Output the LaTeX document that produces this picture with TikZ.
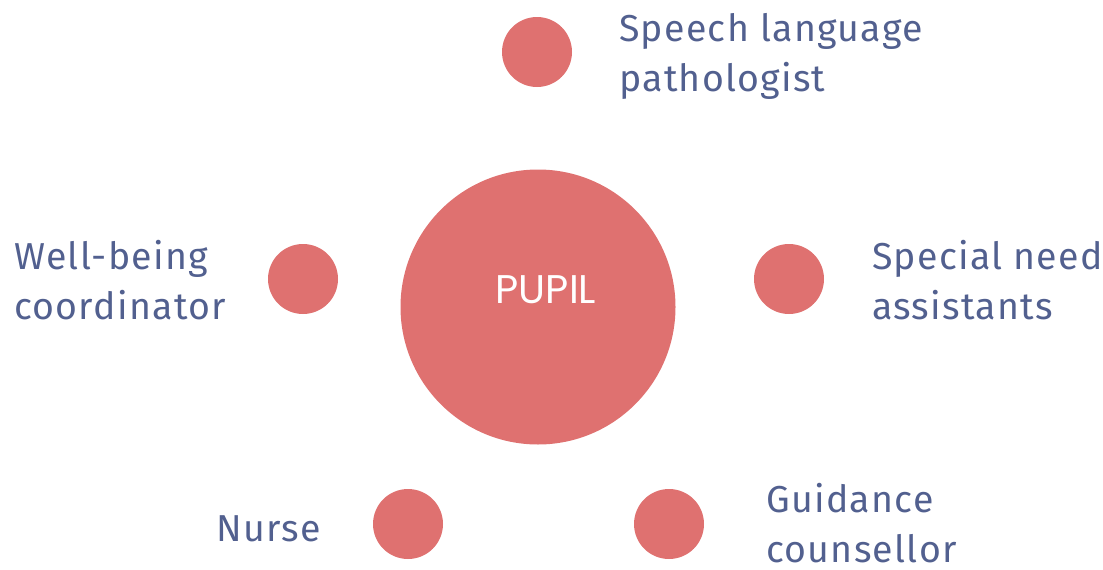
\documentclass[tikz,border=0pt]{standalone}
\usepackage{fontspec}
\setmainfont{Fira Sans}[LetterSpace=3.4]
\newfontfamily\pupilfont{Poppins}
\definecolor{dot}{HTML}{DF7170}
\definecolor{lbl}{HTML}{52608F}
\begin{document}
\begin{tikzpicture}[x=1pt,y=-1pt,
  dotc/.style={circle,fill=dot,draw=none,minimum size=70pt,inner sep=0pt},
  lab/.style={text=lbl,font=\fontsize{37.5}{49.5}\selectfont,align=left,inner sep=0pt,anchor=base west}]
\useasboundingbox (0,0) rectangle (1103,570);
\node[circle,fill=dot,minimum size=275pt,inner sep=0pt] (pupil) at (538,307) {};
\node[text=white,font=\pupilfont\fontsize{40}{44}\selectfont,anchor=base,inner sep=0pt] (pupiltxt) at (546,303) {PUPIL};
\node[dotc] (c1) at (537,52) {};
\node[dotc] (c2) at (303,279) {};
\node[dotc] (c3) at (789,279) {};
\node[dotc] (c4) at (408,524) {};
\node[dotc] (c5) at (669,524) {};
\node[lab] (t1) at (619,91) {Speech language\\pathologist};
\node[lab] (t2) at (14,319) {Well-being\\coordinator};
\node[lab] (t3) at (872,319) {Special need\\assistants};
\node[lab] (t4) at (216,541) {Nurse};
\node[lab] (t5) at (766,562) {Guidance\\counsellor};
\end{tikzpicture}
\end{document}
